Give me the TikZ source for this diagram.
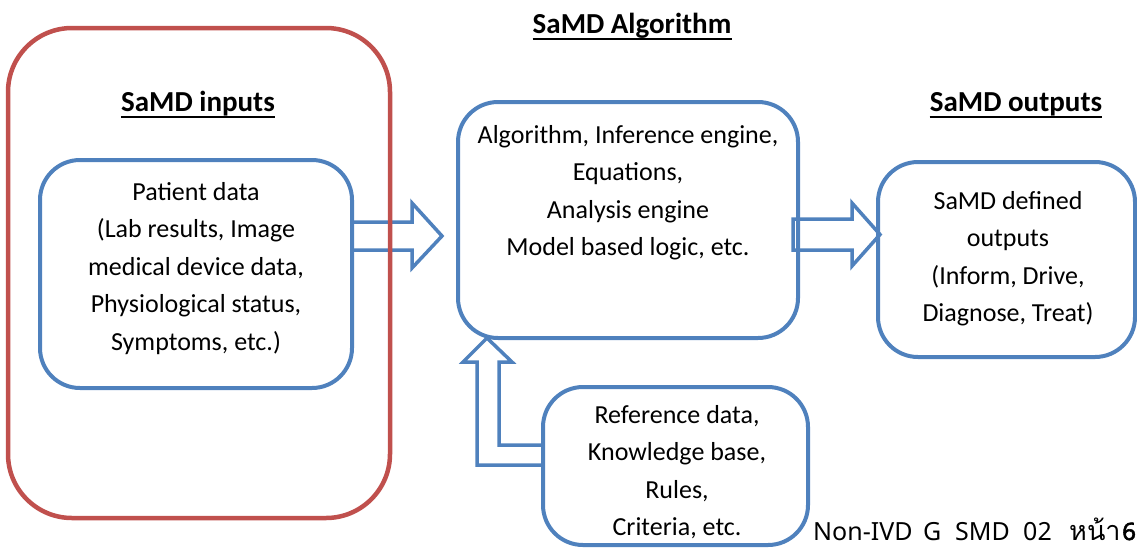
\documentclass[tikz,border=0pt]{standalone}
\usepackage{fontspec}
\setmainfont{Carlito}
\newfontfamily\footfont{Noto Sans}
\newfontfamily\footbold[FakeBold=2.5]{Noto Sans}
\newfontfamily\thaifont[Script=Thai]{Loma}
\definecolor{boxblue}{HTML}{4F81BD}
\definecolor{boxred}{HTML}{C0504D}
\begin{document}
\begin{tikzpicture}[x=1pt,y=-1pt,
  bluebox/.style={draw=boxblue, line width=4pt, rounded corners=40pt, minimum width=#1, inner sep=0pt},
  redbox/.style={draw=boxred, line width=4.5pt, rounded corners=64pt, inner sep=0pt},
  blockarrow/.style={draw=boxblue, line width=3.5pt, line join=miter},
  txt/.style={align=center, inner sep=0pt, anchor=north, font=\fontsize{26}{37.5}\selectfont},
  hd/.style={inner sep=0pt, anchor=base, font=\fontsize{29}{35}\selectfont\bfseries},
  uline/.style={line width=2pt},
  foot/.style={inner sep=0pt, anchor=base west, text depth=0pt, font=\footfont\fontsize{25}{28}\selectfont}]
\useasboundingbox (0,0) rectangle (1137,547);

% block arrows (drawn first)
\draw[blockarrow] (352,222) -- (412,222) -- (412,203) -- (442,236) -- (412,268) -- (412,250) -- (352,250);
\draw[blockarrow] (793,219) -- (852,219) -- (852,203) -- (880,234.5) -- (852,266) -- (852,250) -- (793,250) -- cycle;
\draw[blockarrow] (543,445) -- (499,445) -- (499,362) -- (512,362) -- (487,338) -- (463,362) -- (477,362) -- (477,465) -- (543,465);

% boxes
\node[redbox, minimum width=382pt, minimum height=490pt] (inframe) at (199,273) {};
\node[bluebox=312pt, minimum height=228pt] (inbox) at (196,274) {};
\node[bluebox=340pt, minimum height=236pt] (algbox) at (628,220) {};
\node[bluebox=257pt, minimum height=195pt] (outbox) at (1006.5,259.5) {};
\node[bluebox=265pt, minimum height=158pt] (refbox) at (675.5,466) {};

% headings
\node[hd] (halg) at (632,33) {SaMD Algorithm};
\node[hd] (hin) at (198,111) {SaMD inputs};
\node[hd] (hout) at (1016,111) {SaMD outputs};
\foreach \h in {halg,hin,hout}{
  \draw[uline] ([yshift=-6pt]\h.base west) -- ([yshift=-6pt]\h.base east);
}

% box texts
\node[txt] (tin) at (196,173.75) {\strut Patient data\\(Lab results, Image\\medical device data,\\Physiological status,\\Symptoms, etc.)};
\node[txt] (talg) at (628,116.75) {\strut Algorithm, Inference engine,\\Equations,\\Analysis engine\\Model based logic, etc.};
\node[txt] (tout) at (1008,182.75) {\strut SaMD defined\\outputs\\(Inform, Drive,\\Diagnose, Treat)};
\node[txt] (tref) at (677,396.75) {\strut Reference data,\\Knowledge base,\\Rules,\\Criteria, etc.};

% footer
\node[foot] (f1) at (813,540) {Non-IVD};
\node[foot] (f2) at (923,540) {G};
\node[foot] (f3) at (955,540) {SMD};
\node[foot] (f4) at (1023,540) {02};
\node[foot, font=\thaifont\fontsize{27}{30}\selectfont] (f5) at (1069,540) {หน้า};
\node[foot, font=\footbold\fontsize{24}{28}\selectfont] (f6) at (1122,540) {6};
\end{tikzpicture}
\end{document}
